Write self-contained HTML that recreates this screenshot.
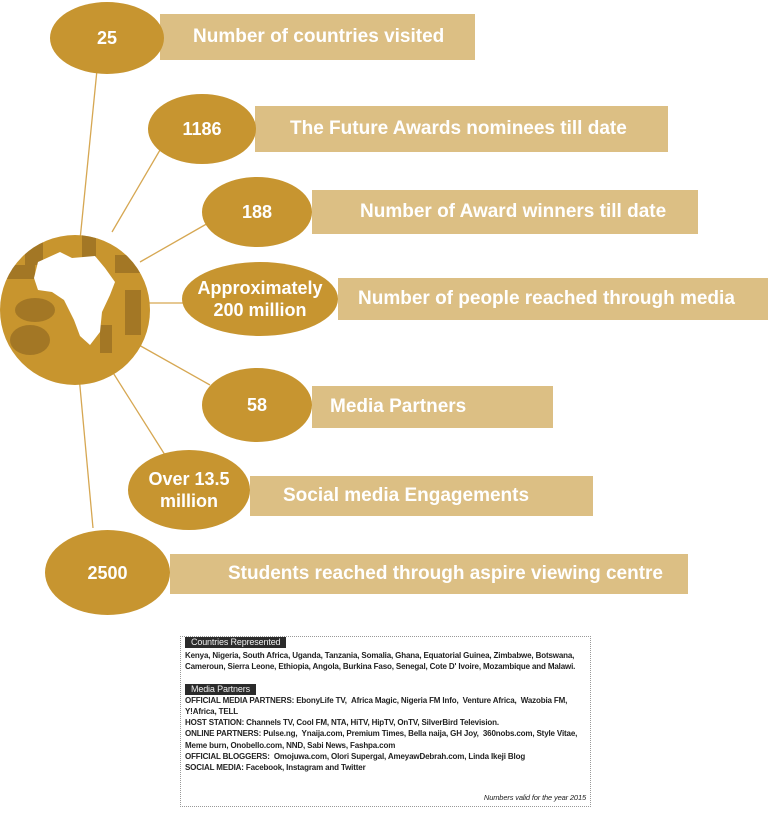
<!DOCTYPE html>
<html><head><style>
body{margin:0;width:768px;height:816px;background:#fff;position:relative;overflow:hidden;font-family:"Liberation Sans",sans-serif}
.bar{position:absolute;background:#dcbf84;color:#fff;font-weight:bold;font-size:19px;display:flex;align-items:center;white-space:nowrap}
.el{position:absolute;background:#c79530;border-radius:50%;color:#fff;font-weight:bold;display:flex;align-items:center;justify-content:center;text-align:center;font-size:18px;line-height:22px}
.box{position:absolute;left:180px;top:636px;width:409px;height:169px;border:1px dotted #999;font-size:8px;font-weight:bold;color:#222;line-height:11.2px;letter-spacing:-0.15px}
.lab{display:inline-block;background:#2b2b2b;color:#eee;font-weight:normal;font-size:9px;padding:0 6px;line-height:11px}
</style></head><body>
<svg width="768" height="816" style="position:absolute;left:0;top:0">
<defs><clipPath id="c"><circle cx="75" cy="310" r="75"/></clipPath></defs>
<g stroke="#d6a752" stroke-width="1.3">
<line x1="97" y1="70" x2="80" y2="240"/>
<line x1="160" y1="150" x2="112" y2="232"/>
<line x1="210" y1="222" x2="140" y2="262"/>
<line x1="145" y1="303" x2="185" y2="303"/>
<line x1="130" y1="340" x2="210" y2="385"/>
<line x1="105" y1="360" x2="165" y2="455"/>
<line x1="78" y1="365" x2="93" y2="528"/>
</g>
<circle cx="75" cy="310" r="75" fill="#c8952e"/>
<g fill="#8a6420" opacity="0.6" clip-path="url(#c)">
<rect x="25" y="240" width="18" height="25"/><rect x="82" y="225" width="14" height="40"/><rect x="115" y="255" width="25" height="18"/>
<rect x="5" y="265" width="30" height="14"/><rect x="125" y="290" width="16" height="45"/><ellipse cx="35" cy="310" rx="20" ry="12"/>
<ellipse cx="30" cy="340" rx="20" ry="15"/><rect x="100" y="325" width="12" height="28"/>
</g>
<path d="M38 262 L60 252 L72 258 L95 256 L105 268 L115 282 L110 295 L102 312 L100 332 L90 345 L80 336 L74 320 L64 300 L52 292 L38 290 L34 278 Z" fill="#fff"/>
</svg>
<div class="bar" style="left:160px;top:14px;width:315px;height:46px"><span style="margin-left:33px">Number of countries visited</span></div>
<div class="el" style="left:50px;top:2px;width:114px;height:72px">25</div>
<div class="bar" style="left:255px;top:106px;width:413px;height:46px"><span style="margin-left:35px">The Future Awards nominees till date</span></div>
<div class="el" style="left:148px;top:94px;width:108px;height:70px">1186</div>
<div class="bar" style="left:312px;top:190px;width:386px;height:44px"><span style="margin-left:48px">Number of Award winners till date</span></div>
<div class="el" style="left:202px;top:177px;width:110px;height:70px">188</div>
<div class="bar" style="left:338px;top:278px;width:430px;height:42px"><span style="margin-left:20px">Number of people reached through media</span></div>
<div class="el" style="left:182px;top:262px;width:156px;height:74px">Approximately<br>200 million</div>
<div class="bar" style="left:312px;top:386px;width:241px;height:42px"><span style="margin-left:18px">Media Partners</span></div>
<div class="el" style="left:202px;top:368px;width:110px;height:74px">58</div>
<div class="bar" style="left:250px;top:476px;width:343px;height:40px"><span style="margin-left:33px">Social media Engagements</span></div>
<div class="el" style="left:128px;top:450px;width:122px;height:80px">Over 13.5<br>million</div>
<div class="bar" style="left:170px;top:554px;width:518px;height:40px"><span style="margin-left:58px">Students reached through aspire viewing centre</span></div>
<div class="el" style="left:45px;top:530px;width:125px;height:85px">2500</div>
<div class="box">
<div style="padding:0 0 0 4px"><span class="lab">Countries Represented</span></div>
<div style="padding:2px 4px">Kenya, Nigeria, South Africa, Uganda, Tanzania, Somalia, Ghana, Equatorial Guinea, Zimbabwe, Botswana, Cameroun, Sierra Leone, Ethiopia, Angola, Burkina Faso, Senegal, Cote D' Ivoire, Mozambique and Malawi.</div>
<div style="padding:9px 0 0 4px"><span class="lab">Media Partners</span></div>
<div style="padding:0 4px">OFFICIAL MEDIA PARTNERS: EbonyLife TV, &nbsp;Africa Magic, Nigeria FM Info, &nbsp;Venture Africa, &nbsp;Wazobia FM, Y!Africa, TELL<br>HOST STATION: Channels TV, Cool FM, NTA, HiTV, HipTV, OnTV, SilverBird Television.<br>ONLINE PARTNERS: Pulse.ng, &nbsp;Ynaija.com, Premium Times, Bella naija, GH Joy, &nbsp;360nobs.com, Style Vitae, Meme burn, Onobello.com, NND, Sabi News, Fashpa.com<br>OFFICIAL BLOGGERS: &nbsp;Omojuwa.com, Olori Supergal, AmeyawDebrah.com, Linda Ikeji Blog<br>SOCIAL MEDIA: Facebook, Instagram and Twitter</div>
<div style="position:absolute;right:4px;bottom:3px;font-style:italic;font-weight:normal;font-size:7.5px">Numbers valid for the year 2015</div>
</div>
</body></html>
